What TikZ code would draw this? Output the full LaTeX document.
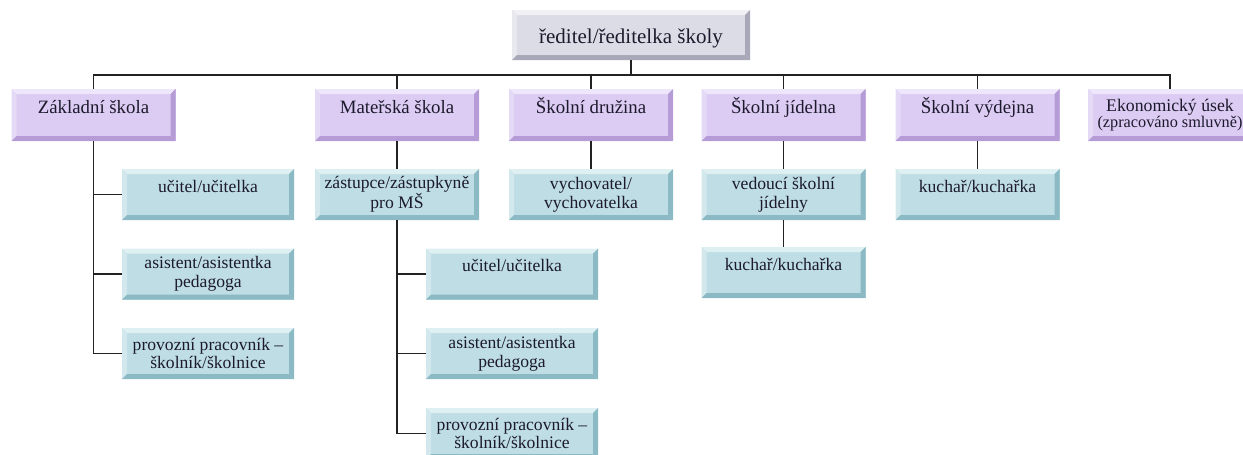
\documentclass[tikz,border=0pt]{standalone}
\usepackage{fontspec}
\setmainfont{Liberation Serif}
\newfontfamily\tnr{Liberation Serif}
\definecolor{txt}{HTML}{1C1A2C}
\definecolor{lnc}{HTML}{222222}
\definecolor{pface}{HTML}{DCCBF2}
\definecolor{plight}{HTML}{EEE6FA}
\definecolor{pmid}{HTML}{E5DAF6}
\definecolor{pdark}{HTML}{B59CD6}
\definecolor{gface}{HTML}{DCDCE6}
\definecolor{glight}{HTML}{F0F0F5}
\definecolor{gmid}{HTML}{E8E8EF}
\definecolor{gdark}{HTML}{A8A8B8}
\definecolor{bface}{HTML}{BEDDE4}
\definecolor{blight}{HTML}{DFF0F3}
\definecolor{bmid}{HTML}{D2E8ED}
\definecolor{bdark}{HTML}{8CBAC4}
\newcommand\bvpaint[3]{%
  \path (path picture bounding box.north west) coordinate (bNW)
        (path picture bounding box.north east) coordinate (bNE)
        (path picture bounding box.south west) coordinate (bSW)
        (path picture bounding box.south east) coordinate (bSE);
  \fill[#1] (bNW) -- (bNE) -- ([shift={(-3.75pt,-3.75pt)}]bNE) -- ([shift={(3.75pt,-3.75pt)}]bNW) -- cycle;
  \fill[#2] (bNW) -- ([shift={(3.75pt,-3.75pt)}]bNW) -- ([shift={(3.75pt,3.75pt)}]bSW) -- (bSW) -- cycle;
  \fill[#3] (bNE) -- (bSE) -- ([shift={(-3.75pt,3.75pt)}]bSE) -- ([shift={(-3.75pt,-3.75pt)}]bNE) -- cycle;
  \fill[#3] (bSW) -- (bSE) -- ([shift={(-3.75pt,3.75pt)}]bSE) -- ([shift={(3.75pt,3.75pt)}]bSW) -- cycle;
}
\tikzset{
  basebox/.style={rectangle, inner sep=0pt, text=txt},
  graybox/.style={basebox, fill=gface, path picture={\bvpaint{glight}{gmid}{gdark}}},
  purplebox/.style={basebox, fill=pface, path picture={\bvpaint{plight}{pmid}{pdark}}},
  bluebox/.style={basebox, fill=bface, path picture={\bvpaint{blight}{bmid}{bdark}}},
  topbox/.style={graybox, minimum width=178.5pt, minimum height=37.5pt,
     font=\tnr\fontsize{15.75}{17}\selectfont, text height=15pt, text depth=3pt},
  lvtwo/.style={purplebox, minimum width=123pt, minimum height=39pt,
     font=\tnr\fontsize{14.1}{15}\selectfont, text height=10pt, text depth=13pt},
  lvtwoml/.style={purplebox, minimum width=123pt, minimum height=39pt,
     font=\tnr\fontsize{13.3}{12}\selectfont, align=center},
  lvthree/.style={bluebox, minimum height=38.25pt,
     font=\tnr\fontsize{13.2}{14}\selectfont, text height=9pt, text depth=12.75pt},
  lvthreeml/.style={bluebox, minimum height=38.25pt,
     font=\tnr\fontsize{13.2}{14}\selectfont, align=center},
  wide/.style={minimum width=129pt},
  narrow/.style={minimum width=123pt},
  conn/.style={draw=lnc, line width=1.3pt},
}
\begin{document}
\begin{tikzpicture}[x=0.75pt,y=-0.75pt]
\useasboundingbox (0,0) rectangle (1243,454);
\clip (0,0) rectangle (1243,454);
% top
\node[topbox] (top) at (631,35) {ředitel/ředitelka školy};
\coordinate (bus) at (631,75);
% level 2
\node[lvtwo] (zs) at (93.5,115) {Základní škola};
\node[lvtwo] (ms) at (397,115) {Mateřská škola};
\node[lvtwo] (dr) at (591,115) {Školní družina};
\node[lvtwo] (jd) at (783.5,115) {Školní jídelna};
\node[lvtwo] (vd) at (977.5,115) {Školní výdejna};
\node[lvtwoml] (ek) at (1170,115) {Ekonomický úsek\\{\fontsize{12.2}{12}\selectfont(zpracováno smluvně)}};
% level 3 - Zakladni skola
\node[lvthree,wide] (zs1) at (208,194.5) {učitel/učitelka};
\node[lvthreeml,wide] (zs2) at (208,274) {asistent/asistentka\\pedagoga};
\node[lvthreeml,wide] (zs3) at (208,353.5) {provozní pracovník –\\školník/školnice};
% Materska skola
\node[lvthreeml,narrow] (zas) at (397,194.5) {zástupce/zástupkyně\\pro MŠ};
\node[lvthree,wide] (ms1) at (512,274) {učitel/učitelka};
\node[lvthreeml,wide] (ms2) at (512,353.5) {asistent/asistentka\\pedagoga};
\node[lvthreeml,wide] (ms3) at (512,433.5) {provozní pracovník –\\školník/školnice};
% Druzina
\node[lvthreeml,narrow] (vy) at (591,194.5) {vychovatel/\\vychovatelka};
% Jidelna
\node[lvthreeml,narrow] (ved) at (783.5,194.5) {vedoucí školní\\jídelny};
\node[lvthree,narrow] (kuc1) at (783.5,272.5) {kuchař/kuchařka};
% Vydejna
\node[lvthree,narrow] (kuc2) at (977.5,194.5) {kuchař/kuchařka};
% connectors
\draw[conn] (top.south) -- (bus);
\foreach \c in {zs,ms,dr,jd,vd,ek} \draw[conn] (bus) -| (\c.north);
\foreach \c in {zs1,zs2,zs3} \draw[conn] (zs.south) |- (\c.west);
\draw[conn] (ms.south) -- (zas.north);
\foreach \c in {ms1,ms2,ms3} \draw[conn] (zas.south) |- (\c.west);
\draw[conn] (dr.south) -- (vy.north);
\draw[conn] (jd.south) -- (ved.north);
\draw[conn] (ved.south) -- (kuc1.north);
\draw[conn] (vd.south) -- (kuc2.north);
\end{tikzpicture}
\end{document}
